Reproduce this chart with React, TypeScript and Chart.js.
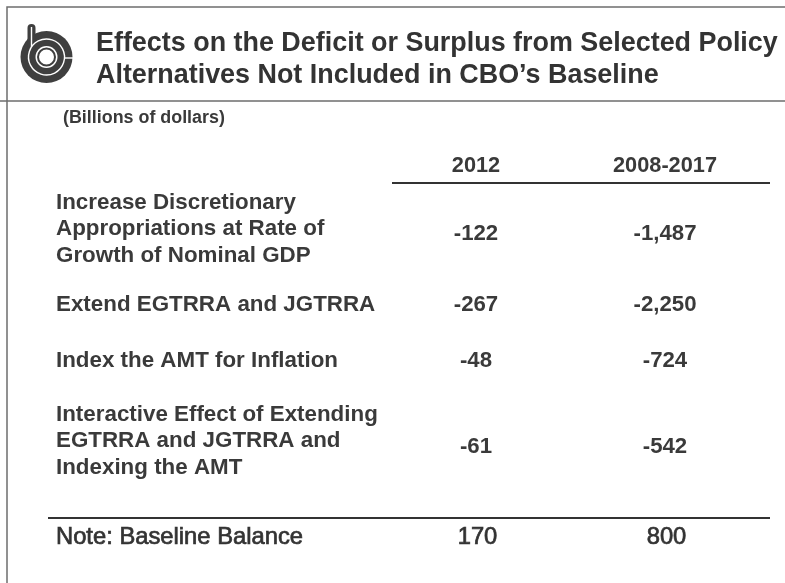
import React, { useEffect, useRef } from "react";
import { Chart, registerables } from "chart.js";

Chart.register(...registerables);

// ---- Data ----
const titleLines = [
  "Effects on the Deficit or Surplus from Selected Policy",
  "Alternatives Not Included in CBO\u2019s Baseline",
];
const unitsLabel = "(Billions of dollars)";
const columnHeaders = ["2012", "2008-2017"];
const rowLabels = [
  ["Increase Discretionary", "Appropriations at Rate of", "Growth of Nominal GDP"],
  ["Extend EGTRRA and JGTRRA"],
  ["Index the AMT for Inflation"],
  ["Interactive Effect of Extending", "EGTRRA and JGTRRA and", "Indexing the AMT"],
];
const values2012 = [-122, -267, -48, -61];
const values2008to2017 = [-1487, -2250, -724, -542];
const noteLabel = "Note: Baseline Balance";
const noteValues = [170, 800];

// ---- Layout (pixel units on hidden linear scales) ----
const W = 785;
const H = 583;
const colX = [476, 665];
const labelX = 56;
const rowY = [229, 305, 361, 441];
const valueY = [234, 305, 361, 447];
const lineGap = 26.5;
const headerY = 166;
const noteY = 537;
const FAMILY = '"Liberation Sans", Arial, Helvetica, sans-serif';
const TEXT = "#3a3a3a";

const fmt = (v: number) => v.toLocaleString("en-US");

function fitSize(ctx: CanvasRenderingContext2D, text: string, weight: string, target: number) {
  ctx.font = `${weight} 100px ${FAMILY}`;
  return (100 * target) / ctx.measureText(text).width;
}

const tablePlugin = {
  id: "tablePlugin",
  afterDatasetsDraw(chart: any) {
    const ctx: CanvasRenderingContext2D = chart.ctx;
    const xs = chart.scales.x;
    const ys = chart.scales.y;
    const px = (v: number) => xs.getPixelForValue(v);
    const py = (v: number) => ys.getPixelForValue(v);
    ctx.save();

    // frame
    ctx.strokeStyle = "#6e6e6e";
    ctx.lineWidth = 1.5;
    ctx.beginPath();
    ctx.moveTo(px(7), py(H));
    ctx.lineTo(px(7), py(7));
    ctx.lineTo(px(W), py(7));
    ctx.moveTo(px(0), py(101));
    ctx.lineTo(px(W), py(101));
    ctx.stroke();

    // logo
    const cx = px(46.5), cy = py(57);
    ctx.fillStyle = "#3f3f3f";
    ctx.beginPath();
    ctx.arc(cx, cy, 26, 0, Math.PI * 2);
    ctx.fill();
    ctx.beginPath();
    ctx.moveTo(cx - 19, cy);
    ctx.lineTo(cx - 19, py(28));
    ctx.arc(cx - 15, py(28), 4, Math.PI, 0);
    ctx.lineTo(cx - 11, cy);
    ctx.fill();
    ctx.strokeStyle = "#ffffff";
    ctx.lineWidth = 1.4;
    ctx.beginPath();
    ctx.arc(cx, cy, 18, Math.PI * 0.85, Math.PI * 2.85);
    ctx.stroke();
    ctx.beginPath();
    ctx.moveTo(cx - 15, py(27));
    ctx.lineTo(cx - 15, cy - 10);
    ctx.stroke();
    ctx.beginPath();
    ctx.moveTo(cx + 18, cy + 1);
    ctx.lineTo(cx + 30, cy + 1);
    ctx.stroke();
    ctx.fillStyle = "#ffffff";
    ctx.beginPath();
    ctx.arc(cx, cy, 11, 0, Math.PI * 2);
    ctx.fill();
    ctx.strokeStyle = "#3f3f3f";
    ctx.lineWidth = 2;
    ctx.beginPath();
    ctx.arc(cx, cy, 8.5, 0, Math.PI * 2);
    ctx.stroke();

    // title
    ctx.fillStyle = "#333333";
    ctx.textBaseline = "middle";
    ctx.textAlign = "left";
    const ts = fitSize(ctx, titleLines[0], "bold", 682);
    ctx.font = `bold ${ts}px ${FAMILY}`;
    ctx.fillText(titleLines[0], px(96), py(44));
    ctx.fillText(titleLines[1], px(96), py(76));

    // units
    ctx.fillStyle = TEXT;
    const us = fitSize(ctx, unitsLabel, "bold", 162);
    ctx.font = `bold ${us}px ${FAMILY}`;
    ctx.fillText(unitsLabel, px(63), py(118));

    // headers
    ctx.textAlign = "center";
    const hs = fitSize(ctx, columnHeaders[1], "bold", 104);
    ctx.font = `bold ${hs}px ${FAMILY}`;
    columnHeaders.forEach((h, i) => ctx.fillText(h, px(colX[i]), py(headerY)));
    ctx.strokeStyle = "#333333";
    ctx.lineWidth = 2;
    ctx.beginPath();
    ctx.moveTo(px(392), py(183));
    ctx.lineTo(px(770), py(183));
    ctx.moveTo(px(48), py(518));
    ctx.lineTo(px(770), py(518));
    ctx.stroke();

    // row labels
    ctx.textAlign = "left";
    const ls = fitSize(ctx, rowLabels[3][0], "bold", 322);
    ctx.font = `bold ${ls}px ${FAMILY}`;
    rowLabels.forEach((lines, i) => {
      const n = lines.length;
      lines.forEach((t, j) => {
        ctx.fillText(t, px(labelX), py(rowY[i] + (j - (n - 1) / 2) * lineGap));
      });
    });

    // values from dataset elements
    ctx.textAlign = "center";
    const vs = fitSize(ctx, fmt(values2008to2017[0]), "bold", 63);
    ctx.font = `bold ${vs}px ${FAMILY}`;
    chart.data.datasets.forEach((ds: any, di: number) => {
      if (ds.kind !== "value") return;
      const meta = chart.getDatasetMeta(di);
      meta.data.forEach((el: any, i: number) => {
        ctx.fillText(fmt(ds.values[i]), el.x, el.y);
      });
    });

    // note row (condensed)
    const nsz = 24;
    ctx.font = `${nsz}px ${FAMILY}`;
    const nw = ctx.measureText(noteLabel).width;
    const sx = 247 / nw;
    ctx.fillStyle = "#333333";
    ctx.save();
    ctx.translate(px(labelX), py(noteY));
    ctx.scale(sx, 1);
    ctx.textAlign = "left";
    ctx.lineWidth = 0.7;
    ctx.strokeStyle = "#333333";
    ctx.fillText(noteLabel, 0, 0);
    ctx.strokeText(noteLabel, 0, 0);
    ctx.restore();
    chart.data.datasets.forEach((ds: any, di: number) => {
      if (ds.kind !== "note") return;
      const meta = chart.getDatasetMeta(di);
      meta.data.forEach((el: any, i: number) => {
        ctx.save();
        ctx.translate(el.x, el.y);
        ctx.scale(sx, 1);
        ctx.textAlign = "center";
        ctx.lineWidth = 0.7;
        ctx.strokeStyle = "#333333";
        ctx.fillText(fmt(ds.values[i]), 0, 0);
        ctx.strokeText(fmt(ds.values[i]), 0, 0);
        ctx.restore();
      });
    });

    ctx.restore();
  },
};

export default function App() {
  const ref = useRef<HTMLCanvasElement | null>(null);
  useEffect(() => {
    if (!ref.current) return;
    const valueSeries = [values2012, values2008to2017];
    const datasets: any[] = valueSeries.map((vals, c) => ({
      kind: "value",
      label: columnHeaders[c],
      values: vals,
      data: vals.map((_, i) => ({ x: colX[c], y: valueY[i] })),
      pointRadius: 0,
      showLine: false,
    }));
    datasets.push({
      kind: "note",
      label: noteLabel,
      values: noteValues,
      data: noteValues.map((_, c) => ({ x: colX[c] + 1.5, y: noteY })),
      pointRadius: 0,
      showLine: false,
    });
    const chart = new Chart(ref.current, {
      type: "scatter",
      data: { datasets },
      options: {
        animation: false,
        responsive: false,
        events: [],
        layout: { padding: 0 },
        plugins: { legend: { display: false }, tooltip: { enabled: false }, title: { display: false } },
        scales: {
          x: { type: "linear", min: 0, max: W, display: false },
          y: { type: "linear", min: 0, max: H, reverse: true, display: false },
        },
      },
      plugins: [tablePlugin],
    });
    return () => chart.destroy();
  }, []);
  return (
    <div style={{ position: "absolute", left: 0, top: 0, width: W, height: H, background: "#fff" }}>
      <canvas ref={ref} width={W} height={H} style={{ width: W, height: H, display: "block" }} />
    </div>
  );
}
